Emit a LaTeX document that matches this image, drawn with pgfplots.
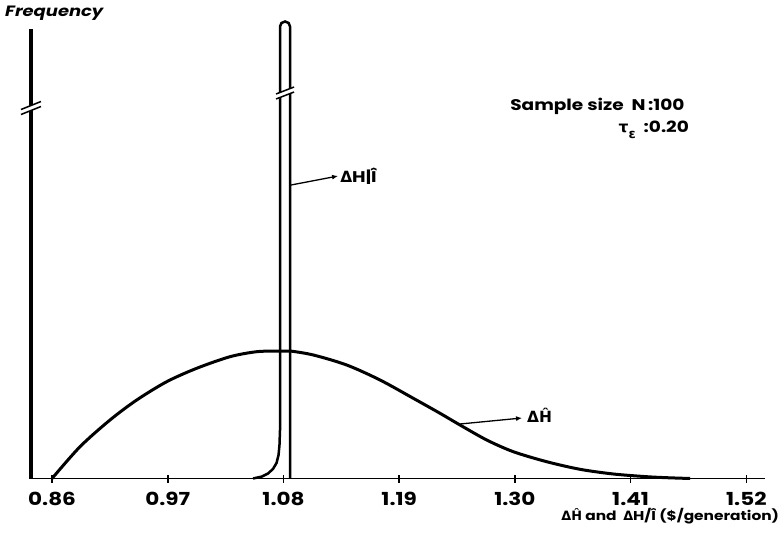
\documentclass[border=0pt]{standalone}
\usepackage{fontspec}
\setmainfont{Poppins}[FakeStretch=1.2]
\newfontfamily\dv{DejaVu Sans}
\usepackage{pgfplots}
\pgfplotsset{compat=1.18}
\usetikzlibrary{arrows.meta}
\newcommand{\D}{{\dv\bfseries Δ}}
\newcommand{\Hh}{{\dv\bfseries Ĥ}}

\begin{document}
\begin{tikzpicture}
\useasboundingbox (-31bp,-58.5bp) rectangle (752bp,478.5bp);
\begin{axis}[
    x=1052bp, y=1bp,
    xmin=0.84, xmax=1.538,
    ymin=0, ymax=450,
    axis x line=bottom, axis y line=left,
    x axis line style={-, line width=1.8bp},
    y axis line style={-, line width=3.5bp},
    xtick={0.86,0.97,1.08,1.19,1.30,1.41,1.52},
    xticklabels={0.86,0.97,1.08,1.19,1.30,1.41,1.52},
    ytick=\empty,
    tick align=center,
    major tick length=8bp,
    tick style={line width=1.5bp, black},
    xticklabel style={font=\fontsize{18}{20}\selectfont\bfseries, yshift=-6bp},
    clip=false,
    xlabel={\D\Hh\ and \ \D H/Î (\$/generation)},
    xlabel style={at={(axis cs:1.3440,-37.5)}, anchor=west, inner sep=0pt,
        font=\fontsize{12.9}{16}\selectfont\bfseries},
]
% Delta H-hat
\addplot[black, line width=3bp, smooth, tension=0.5] coordinates {
    (0.8600,0) (0.8866,31.8) (0.9151,58.5) (0.9405,78.5) (0.9690,96.8)
    (0.9975,110.2) (1.0292,121.8) (1.0546,126.8) (1.0767,127.5)
    (1.0862,127.5) (1.1084,123.5) (1.1401,113.5) (1.1718,98.5)
    (1.2034,80.2) (1.2288,65.2) (1.2478,53.5) (1.2732,38.5)
    (1.2985,26.8) (1.3302,16.8) (1.3619,9.2) (1.3936,4.5)
    (1.4253,1.8) (1.4443,0.8) (1.4665,0)
};
% Delta H | I-hat
\addplot[black, line width=2.5bp] coordinates {
    (1.0511,0) (1.0596,2) (1.0653,5) (1.0700,9.5) (1.0734,15.5)
    (1.0753,23.5) (1.0762,33.5) (1.0767,48.5) (1.0767,452)
    (1.0781,455.5) (1.0815,457) (1.0849,455.5) (1.0862,452)
    (1.0862,0)
};
% break marks
\draw[white, line width=5bp] (axis cs:0.84,370.5) ++(-9bp,-4bp) -- ++(18bp,8bp);
\draw[black, line width=1.5bp] (axis cs:0.84,370.5) ++(-10bp,-6.5bp) -- ++(20bp,8bp);
\draw[black, line width=1.5bp] (axis cs:0.84,370.5) ++(-10bp,-1.5bp) -- ++(20bp,8bp);
\draw[white, line width=5bp] (axis cs:1.0815,385.5) ++(-8bp,-3.5bp) -- ++(16bp,7bp);
\draw[black, line width=1.5bp] (axis cs:1.0815,385.5) ++(-9bp,-6bp) -- ++(18bp,7bp);
\draw[black, line width=1.5bp] (axis cs:1.0815,385.5) ++(-9bp,-1bp) -- ++(18bp,7bp);
% annotations
\node[anchor=west, inner sep=0pt, font=\fontsize{15}{18}\selectfont\bfseries\itshape]
    at (axis cs:0.8153,465.5) {Frequency};
\node[anchor=west, inner sep=0pt, font=\fontsize{15.5}{18}\selectfont\bfseries]
    at (axis cs:1.2954,372.5) {Sample size \ N\,:100};
\node[anchor=west, inner sep=0pt, font=\fontsize{15.5}{18}\selectfont\bfseries]
    at (axis cs:1.3985,348.5) {{\dv τ}\raisebox{-0.35em}{\dv\fontsize{13}{15}\selectfont ε} \ :0.20};
\draw[-{Latex[length=6bp,width=5bp]}, line width=1.3bp]
    (axis cs:1.0872,293.5) -- (axis cs:1.1319,302.5);
\node[anchor=west, inner sep=0pt, font=\fontsize{15.5}{18}\selectfont\bfseries]
    at (axis cs:1.1338,302.5) {\D H|Î};
\draw[-{Latex[length=6bp,width=5bp]}, line width=1.3bp]
    (axis cs:1.2478,54.5) -- (axis cs:1.3068,60.5);
\node[anchor=west, inner sep=0pt, font=\fontsize{15.5}{18}\selectfont\bfseries]
    at (axis cs:1.3115,63) {\D\Hh};
\end{axis}
\end{tikzpicture}
\end{document}
